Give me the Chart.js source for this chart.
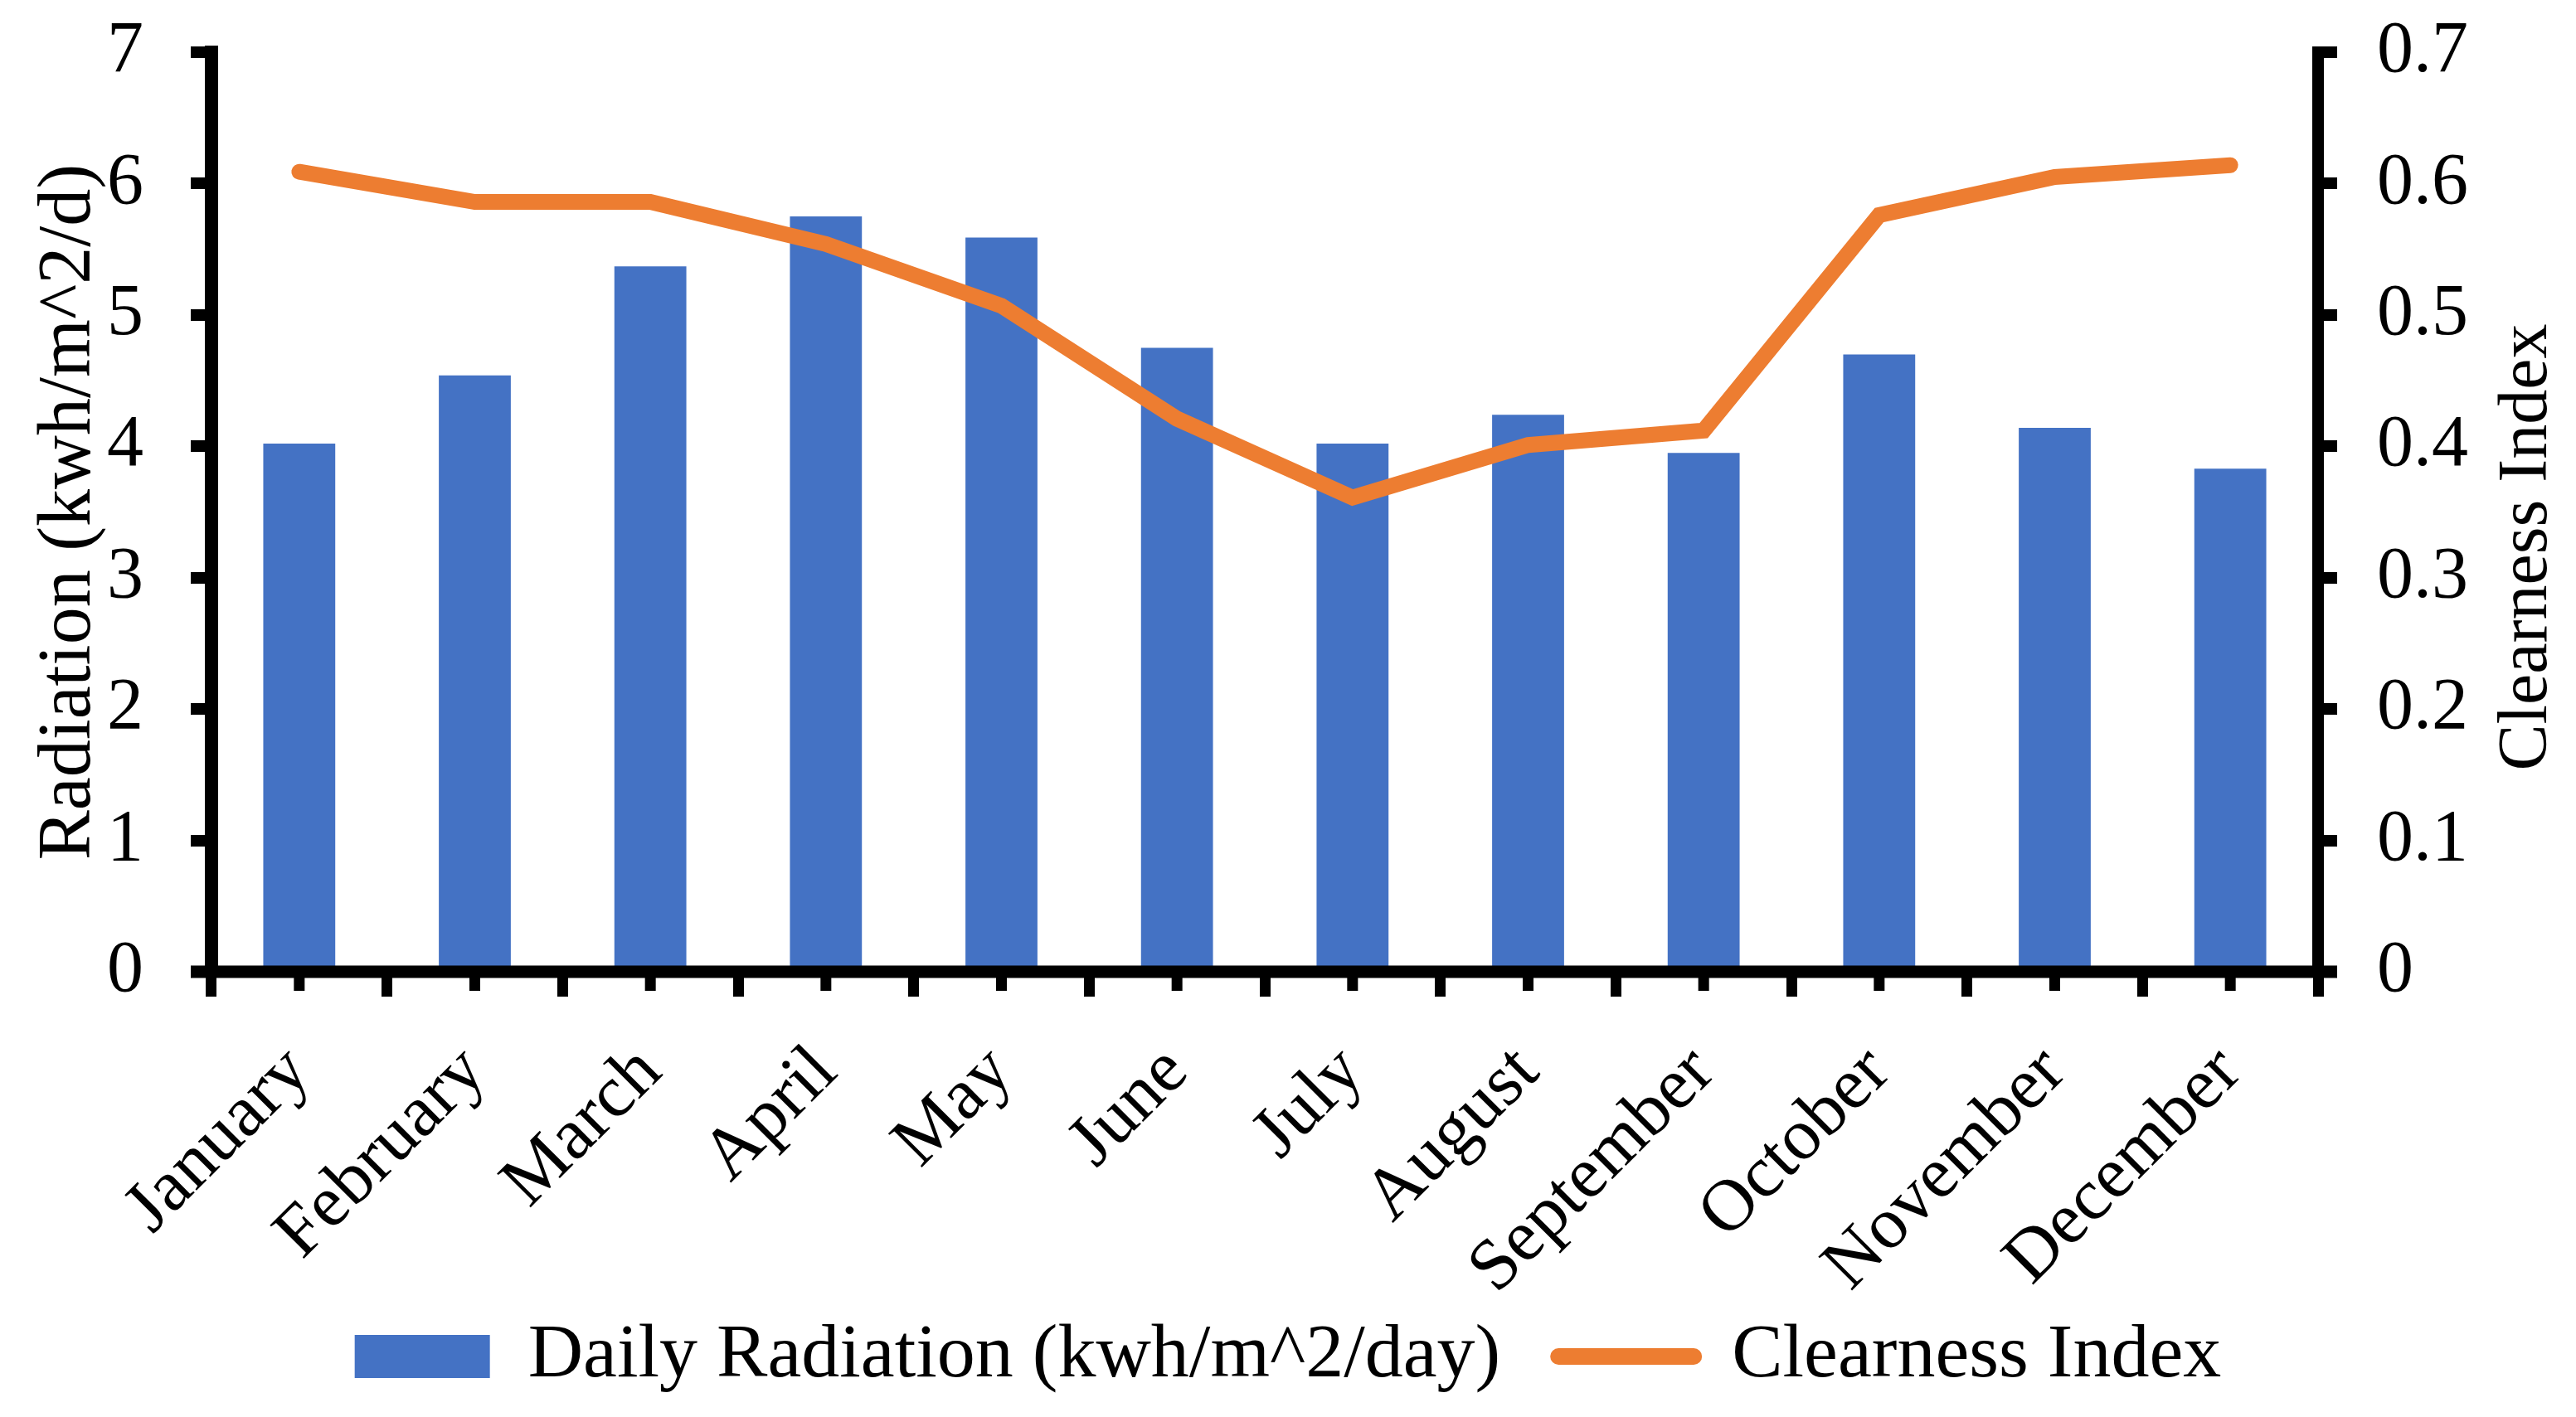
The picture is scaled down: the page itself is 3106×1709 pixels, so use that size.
<!DOCTYPE html>
<html>
<head>
<meta charset="utf-8">
<script src="https://cdn.jsdelivr.net/npm/chart.js@4.4.1/dist/chart.umd.min.js"></script>
<style>
  html, body { margin: 0; padding: 0; background: #fff; }
  canvas { display: block; }
</style>
</head>
<body>
<canvas id="chart" width="3106" height="1709"></canvas>
<script>
const months = ["January", "February", "March", "April", "May", "June",
  "July", "August", "September", "October", "November", "December"];
const dailyRadiation = [4.02, 4.54, 5.37, 5.75, 5.59, 4.75, 4.02, 4.24, 3.95, 4.70, 4.14, 3.83];
const clearnessIndex = [0.609, 0.586, 0.586, 0.554, 0.507, 0.421, 0.361, 0.401, 0.412, 0.576, 0.605, 0.614];
const radiationRange = [0, 7];
const clearnessRange = [0, 0.7];

const serif = "'Liberation Serif', 'Times New Roman', serif";
const blue = "#4472C4";
const orange = "#ED7D31";

// short ticks under each category, longer axis line, and the right-hand title (reads bottom to top)
const axisExtras = {
  id: "axisExtras",
  afterLayout(chart) {
    // let rotated month labels run below the axis box instead of being clipped
    chart.scales.x.bottom = chart.height;
  },
  afterDraw(chart) {
    const { ctx, chartArea } = chart;
    const x = chart.scales.x;
    ctx.save();
    ctx.fillStyle = "#000";
    ctx.fillRect(chartArea.left - 25, chartArea.bottom - 7.5, chartArea.right - chartArea.left + 48, 15);
    months.forEach((m, i) => {
      const px = x.getPixelForValue(i);
      ctx.fillRect(px - 6.5, chartArea.bottom, 13, 23);
    });
    ctx.translate(3048, 660);
    ctx.rotate(-Math.PI / 2);
    ctx.font = "84px " + serif;
    ctx.textAlign = "center";
    ctx.textBaseline = "middle";
    ctx.fillText("Clearness Index", 0, 0);
    ctx.restore();
  }
};

new Chart(document.getElementById("chart"), {
  data: {
    labels: months,
    datasets: [
      {
        type: "bar",
        label: "Daily Radiation (kwh/m^2/day)",
        data: dailyRadiation,
        backgroundColor: blue,
        barPercentage: 0.41,
        categoryPercentage: 1.0,
        yAxisID: "y",
        order: 1
      },
      {
        type: "line",
        label: "Clearness Index",
        data: clearnessIndex,
        borderColor: orange,
        backgroundColor: orange,
        borderWidth: 19,
        borderCapStyle: "round",
        borderJoinStyle: "miter",
        pointRadius: 0,
        tension: 0,
        yAxisID: "y1",
        order: 0
      }
    ]
  },
  options: {
    responsive: false,
    animation: false,
    devicePixelRatio: 1,
    layout: { padding: { top: 0, bottom: 17, left: 0, right: 0 } },
    plugins: {
      tooltip: { enabled: false },
      legend: {
        position: "bottom",
        labels: {
          color: "#000",
          font: { family: serif, size: 92 },
          usePointStyle: true,
          pointStyleWidth: 163,
          boxHeight: 52,
          padding: 70,
          generateLabels: (chart) => chart.data.datasets.map((ds, i) => ({
            text: ds.label,
            fillStyle: ds.type === "line" ? ds.borderColor : ds.backgroundColor,
            strokeStyle: ds.type === "line" ? ds.borderColor : ds.backgroundColor,
            lineWidth: ds.type === "line" ? 20 : 0,
            lineCap: "round",
            pointStyle: ds.type === "line" ? "line" : "rect",
            fontColor: "#000",
            datasetIndex: i,
            hidden: false
          }))
        }
      }
    },
    scales: {
      x: {
        offset: true,
        grid: {
          offset: true,
          drawOnChartArea: false,
          tickLength: 30,
          lineWidth: 13,
          color: "#000"
        },
        border: { display: false },
        ticks: {
          color: "#000",
          font: { family: serif, size: 88 },
          minRotation: 45,
          maxRotation: 45,
          padding: 40
        },
        afterFit(scale) { scale.height = 348; }
      },
      y: {
        position: "left",
        min: radiationRange[0],
        max: radiationRange[1],
        grid: { drawOnChartArea: false, tickLength: 25, lineWidth: 14, color: "#000" },
        border: { display: true, width: 16, color: "#000" },
        ticks: { stepSize: 1, color: "#000", font: { family: serif, size: 88 }, padding: 57 },
        title: {
          display: true,
          text: "Radiation (kwh/m^2/d)",
          color: "#000",
          font: { family: serif, size: 90 },
          padding: { top: 30, bottom: 0 }
        },
        afterFit(scale) {
          scale.width = 255;
          scale.paddingTop = 63;
          scale.paddingBottom = 0;
        }
      },
      y1: {
        position: "right",
        min: clearnessRange[0],
        max: clearnessRange[1],
        grid: { drawOnChartArea: false, tickLength: 23, lineWidth: 14, color: "#000" },
        border: { display: true, width: 14, color: "#000" },
        ticks: {
          stepSize: 0.1,
          color: "#000",
          font: { family: serif, size: 88 },
          padding: 48,
          callback: (v) => String(+v.toFixed(1))
        },
        afterFit(scale) {
          scale.width = 311;
          scale.paddingTop = 63;
          scale.paddingBottom = 0;
        }
      }
    }
  },
  plugins: [axisExtras]
});
</script>
</body>
</html>
